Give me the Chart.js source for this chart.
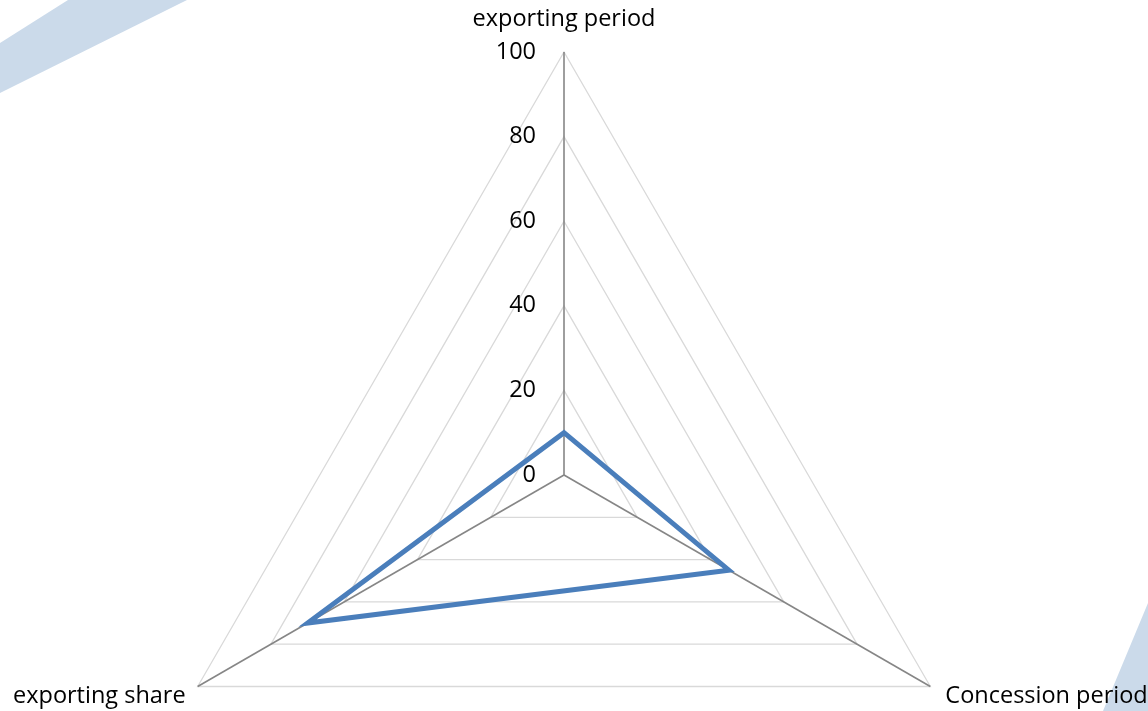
<!DOCTYPE html>
<html>
<head>
<meta charset="utf-8">
<script src="https://cdn.jsdelivr.net/npm/chart.js@4.4.0/dist/chart.umd.min.js"></script>
<style>
  html, body { margin: 0; padding: 0; background: #fff; overflow: hidden; }
  #wrap { position: relative; width: 1148px; height: 711px; overflow: hidden; }
  .deco { position: absolute; left: 0; top: 0; width: 1148px; height: 711px; background: #cbdaea; }
  #decoA { clip-path: polygon(0 43px, 68px 0, 187px 0, 0 93px); }
  #decoB { clip-path: polygon(1148px 603px, 1103px 711px, 1148px 711px); }
  canvas { position: absolute; left: 0; top: 0; }
</style>
</head>
<body>
<div id="wrap">
  <div class="deco" id="decoA"></div>
  <div class="deco" id="decoB"></div>
  <!-- canvas is taller than the page: the radar box is square, the triangle only uses the top part -->
  <canvas id="radarChart" width="1148" height="920"></canvas>
</div>
<script>
const categories = ['exporting period', 'Concession period', 'exporting share'];
const seriesValues = [10, 45, 70];
const tickValues = [0, 20, 40, 60, 80, 100];

const labelFont = '23.5px "Open Sans", sans-serif';

// tick numbers left of the vertical axis + axis titles at the outer corners
const labelPlugin = {
  id: 'radarLabels',
  afterDraw(chart) {
    const scale = chart.scales.r;
    const c = chart.ctx;
    c.save();
    c.font = labelFont;
    c.fillStyle = '#000';
    c.textBaseline = 'middle';
    c.textAlign = 'right';
    tickValues.forEach(v => {
      const d = scale.getDistanceFromCenterForValue(v);
      c.fillText(String(v), scale.xCenter - 28, scale.yCenter - d);
    });
    categories.forEach((name, i) => {
      const p = scale.getPointPosition(i, scale.drawingArea);
      if (i === 0) {
        c.textAlign = 'center';
        c.fillText(name, p.x, p.y - 33);
      } else if (p.x > scale.xCenter) {
        c.textAlign = 'left';
        c.fillText(name, p.x + 15, p.y + 10);
      } else {
        c.textAlign = 'right';
        c.fillText(name, p.x - 12, p.y + 10);
      }
    });
    c.restore();
  }
};

const ctx = document.getElementById('radarChart').getContext('2d');
const radarChart = new Chart(ctx, {
  type: 'radar',
  data: {
    labels: categories,
    datasets: [{
      label: 'Series 1',
      data: seriesValues,
      borderColor: '#4a7ebb',
      backgroundColor: 'rgba(0,0,0,0)',
      borderWidth: 5,
      pointRadius: 0,
      fill: false,
      tension: 0
    }]
  },
  options: {
    responsive: false,
    animation: false,
    layout: { padding: { top: 52, bottom: 22, left: 141, right: 161 } },
    plugins: {
      legend: { display: false },
      tooltip: { enabled: false }
    },
    scales: {
      r: {
        min: 0,
        max: 100,
        ticks: { stepSize: 20, display: false },
        grid: { color: '#d9d9d9', lineWidth: 1.3, circular: false },
        angleLines: { color: '#868686', lineWidth: 1.6 },
        pointLabels: { display: false }
      }
    }
  },
  plugins: [labelPlugin]
});
</script>
</body>
</html>
